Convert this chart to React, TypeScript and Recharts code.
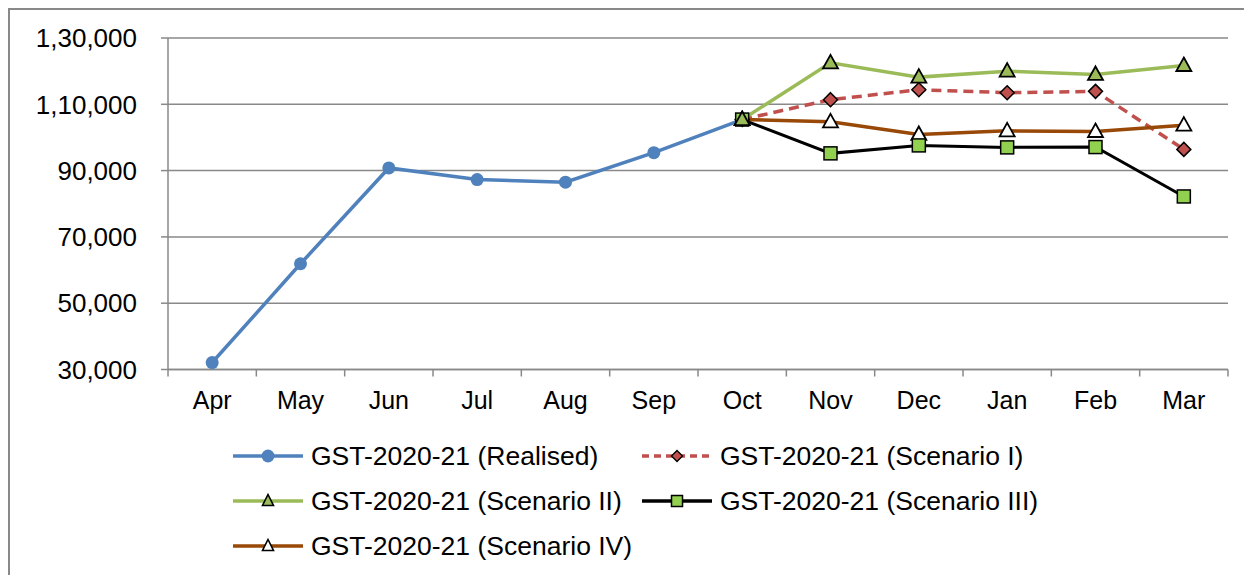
import React from "react";
import {
  LineChart,
  Line,
  XAxis,
  YAxis,
  CartesianGrid,
} from "recharts";

const months = ["Apr", "May", "Jun", "Jul", "Aug", "Sep", "Oct", "Nov", "Dec", "Jan", "Feb", "Mar"];
const realised = [32100, 61900, 90800, 87300, 86500, 95400, 105400, null, null, null, null, null];
const scenario1 = [null, null, null, null, null, null, 105400, 111400, 114400, 113500, 113900, 96400];
const scenario2 = [null, null, null, null, null, null, 105400, 122500, 118200, 120000, 119000, 121700];
const scenario3 = [null, null, null, null, null, null, 105400, 95200, 97600, 97000, 97100, 82200];
const scenario4 = [null, null, null, null, null, null, 105400, 104700, 100900, 102000, 101800, 103700];
const yTicks = [30000, 50000, 70000, 90000, 110000, 130000];

const data = months.map((m, i) => ({
  month: m,
  realised: realised[i],
  s1: scenario1[i],
  s2: scenario2[i],
  s3: scenario3[i],
  s4: scenario4[i],
}));

const FONT = "'Liberation Sans', Arial, sans-serif";
const GRID = "#898989";
const BLUE = "#4F81BD";
const RED = "#C0504D";
const GREEN = "#9BBB59";
const LIME = "#92D050";
const BROWN = "#984807";

const BAND = (1219.7 - 160) / 12;

function indian(v: number) {
  const s = String(v);
  const last3 = s.slice(-3);
  const rest = s.slice(0, -3);
  if (!rest) return last3;
  return rest.replace(/\B(?=(\d{2})+(?!\d))/g, ",") + "," + last3;
}

type DotProps = { cx?: number; cy?: number; index?: number; value?: number | null };

function circle(p: DotProps) {
  if (p.cy == null || p.value == null) return <g key={p.index} />;
  return <circle key={p.index} cx={p.cx} cy={p.cy} r={6.5} fill={BLUE} />;
}

function diamond(p: DotProps) {
  if (p.cy == null || p.value == null) return <g key={p.index} />;
  const { cx = 0, cy = 0 } = p;
  const h = 7;
  return (
    <polygon
      key={p.index}
      points={`${cx},${cy - h} ${cx + h},${cy} ${cx},${cy + h} ${cx - h},${cy}`}
      fill={RED}
      stroke="#000"
      strokeWidth={1.5}
    />
  );
}

function triangle(fill: string) {
  return (p: DotProps) => {
    if (p.cy == null || p.value == null) return <g key={p.index} />;
    const { cx = 0, cy = 0 } = p;
    return (
      <polygon
        key={p.index}
        points={`${cx},${cy - 8} ${cx + 7.5},${cy + 5.5} ${cx - 7.5},${cy + 5.5}`}
        fill={fill}
        stroke="#000"
        strokeWidth={1.8}
      />
    );
  };
}

function square(p: DotProps) {
  if (p.cy == null || p.value == null) return <g key={p.index} />;
  const { cx = 0, cy = 0 } = p;
  return (
    <rect key={p.index} x={cx - 6.5} y={cy - 6.5} width={13} height={13} fill={LIME} stroke="#000" strokeWidth={1.5} />
  );
}

function MonthTick(props: any) {
  const { x, y, payload, index } = props;
  const axisY = y - 7 - 15;
  return (
    <g>
      <line x1={x - BAND / 2} y1={axisY} x2={x - BAND / 2} y2={axisY + 7} stroke={GRID} strokeWidth={1.5} />
      {index === months.length - 1 && (
        <line x1={x + BAND / 2} y1={axisY} x2={x + BAND / 2} y2={axisY + 7} stroke={GRID} strokeWidth={1.5} />
      )}
      <text x={x} y={y} dy="0.71em" textAnchor="middle" fill="#000" fontSize={25} fontFamily={FONT}>
        {payload.value}
      </text>
    </g>
  );
}

const legendItems = [
  { label: "GST-2020-21 (Realised)", color: BLUE, dash: undefined, marker: "circle", fill: BLUE, col: 0, row: 0 },
  { label: "GST-2020-21 (Scenario I)", color: RED, dash: "7 5", marker: "diamond", fill: RED, col: 1, row: 0 },
  { label: "GST-2020-21 (Scenario II)", color: GREEN, dash: undefined, marker: "triangle", fill: GREEN, col: 0, row: 1 },
  { label: "GST-2020-21 (Scenario III)", color: "#000", dash: undefined, marker: "square", fill: LIME, col: 1, row: 1 },
  { label: "GST-2020-21 (Scenario IV)", color: BROWN, dash: undefined, marker: "triangle", fill: "#fff", col: 0, row: 2 },
];

function LegendMarker({ marker, fill }: { marker: string; fill: string }) {
  const cx = 35;
  const cy = 10;
  if (marker === "circle") return <circle cx={cx} cy={cy} r={6.5} fill={fill} />;
  if (marker === "diamond")
    return (
      <polygon points={`${cx},${cy - 5.5} ${cx + 5.5},${cy} ${cx},${cy + 5.5} ${cx - 5.5},${cy}`} fill={fill} stroke="#000" strokeWidth={1.3} />
    );
  if (marker === "square")
    return <rect x={cx - 5.5} y={cy - 5.5} width={11} height={11} fill={fill} stroke="#000" strokeWidth={1.5} />;
  return (
    <polygon points={`${cx},${cy - 6.5} ${cx + 5.5},${cy + 4.5} ${cx - 5.5},${cy + 4.5}`} fill={fill} stroke="#000" strokeWidth={1.6} />
  );
}

function ChartLegend() {
  return (
    <>
      {legendItems.map((it) => (
        <div
          key={it.label}
          style={{
            position: "absolute",
            left: (it.col === 0 ? 233 : 642) - 8,
            top: [456, 501, 546][it.row] - 8 - 15,
            height: 30,
            display: "flex",
            alignItems: "center",
            whiteSpace: "nowrap",
          }}
        >
          <svg width={70} height={20} style={{ marginRight: 8 }}>
            <line x1={0} y1={10} x2={70} y2={10} stroke={it.color} strokeWidth={3.5} strokeDasharray={it.dash} />
            <LegendMarker marker={it.marker} fill={it.fill} />
          </svg>
          <span style={{ fontFamily: FONT, fontSize: 26.5, color: "#000", lineHeight: "30px" }}>{it.label}</span>
        </div>
      ))}
    </>
  );
}

export default function App() {
  return (
    <div style={{ position: "relative", width: 1244, height: 567, background: "#fff" }}>
      <div
        style={{
          position: "absolute",
          left: 0,
          top: 0,
          width: 1244,
          height: 567,
          borderLeft: `2px solid ${GRID}`,
          borderTop: `2px solid ${GRID}`,
          boxSizing: "border-box",
        }}
      />
      <div style={{ position: "absolute", left: 0, top: 0 }}>
        <LineChart width={1244} height={567} data={data} margin={{ top: 30, right: 24, left: 10, bottom: 165.5 }}>
          <CartesianGrid vertical={false} stroke={GRID} strokeWidth={1.5} />
          <XAxis
            dataKey="month"
            scale="band"
            height={40}
            axisLine={{ stroke: GRID, strokeWidth: 1.5 }}
            tickLine={false}
            tickSize={7}
            tickMargin={15}
            interval={0}
            tick={<MonthTick />}
          />
          <YAxis
            width={150}
            domain={[30000, 130000]}
            ticks={yTicks}
            interval={0}
            tickFormatter={indian}
            axisLine={{ stroke: GRID, strokeWidth: 1.5 }}
            tickLine={{ stroke: GRID, strokeWidth: 1.5 }}
            tickSize={7}
            tickMargin={24}
            tick={{ fill: "#000", fontSize: 26, fontFamily: FONT }}
          />
          <Line dataKey="realised" stroke={BLUE} strokeWidth={3.5} dot={circle} activeDot={false} isAnimationActive={false} />
          <Line dataKey="s1" stroke={RED} strokeWidth={3.5} strokeDasharray="10 6" dot={diamond} activeDot={false} isAnimationActive={false} />
          <Line dataKey="s4" stroke={BROWN} strokeWidth={3.5} dot={triangle("#fff")} activeDot={false} isAnimationActive={false} />
          <Line dataKey="s3" stroke="#000" strokeWidth={3} dot={square} activeDot={false} isAnimationActive={false} />
          <Line dataKey="s2" stroke={GREEN} strokeWidth={3.5} dot={triangle(GREEN)} activeDot={false} isAnimationActive={false} />
        </LineChart>
      </div>
      <ChartLegend />
    </div>
  );
}
